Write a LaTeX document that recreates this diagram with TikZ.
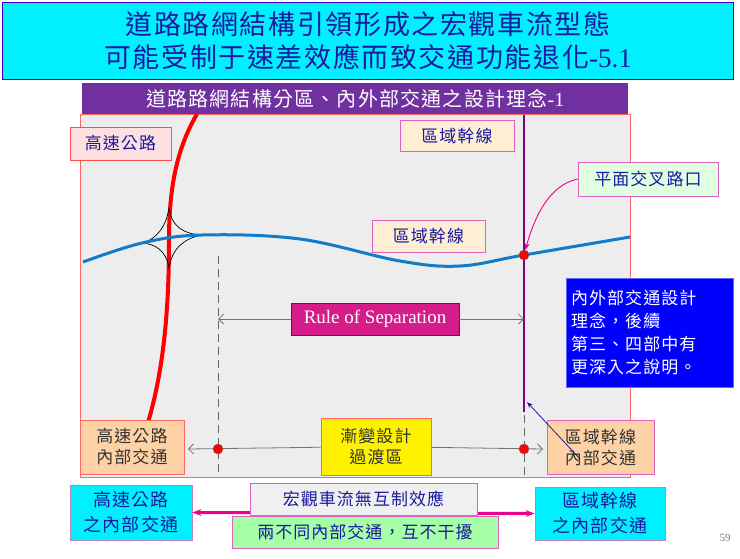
\documentclass[tikz,border=0pt]{standalone}
\usepackage{fontspec}
\setmainfont{Liberation Serif}
\newfontfamily\cjk[LetterSpace=6]{Noto Sans CJK TC}
\usetikzlibrary{arrows.meta}
\definecolor{navy}{HTML}{1A1AA0}
\definecolor{pinkb}{HTML}{E060C0}
\definecolor{aqua}{HTML}{00F0FF}
\definecolor{hdr}{HTML}{7030A0}
\tikzset{
 lab/.style={draw=pinkb,line width=0.8pt,font=\cjk\fontsize{17}{21}\selectfont,text=navy,inner sep=0pt,align=center},
 dot/.style={circle,fill=red,draw=black!60,line width=0.4pt,inner sep=0pt,minimum size=10pt},
}
\begin{document}
\begin{tikzpicture}[x=1pt,y=-1pt]
\useasboundingbox (0,0) rectangle (740,558);
\fill[white] (0,0) rectangle (740,558);
% title
\node[draw=blue!60!violet,line width=1pt,fill=aqua,minimum width=731pt,minimum height=77pt,anchor=north west,inner sep=0pt,align=center,text=navy,font=\cjk\fontsize{27}{33}\selectfont] (title) at (2,2) {道路路網結構引領形成之宏觀車流型態\\可能受制于速差效應而致交通功能退化\fontspec{Liberation Serif}-5.1};
\node[fill=hdr,minimum width=546pt,minimum height=31pt,anchor=north west,inner sep=0pt,text=white,font=\cjk\fontsize{20}{22}\selectfont] (head) at (82,83) {道路路網結構分區、內外部交通之設計理念\fontspec{Liberation Serif}-1};
\node[draw=red!60,fill=black!7,line width=0.6pt,minimum width=550pt,minimum height=363pt,anchor=north west,inner sep=0pt] (panel) at (80,114) {};
% roads
\draw[red,line width=4pt] (197,114) .. controls (176,150) and (169,190) .. (169,240) .. controls (169,330) and (160,395) .. (138,452);
\draw[black,line width=0.7pt] (169,208) .. controls (172,228) and (185,234) .. (202,235) .. controls (185,238) and (172,248) .. (169,268) .. controls (166,250) and (155,244) .. (142,243) .. controls (155,240) and (166,228) .. (169,208);
\draw[cyan!60!blue,line width=3pt] plot[smooth,tension=0.6] coordinates {(83,262)(142,243)(202,235)(300,239)(400,261)(460,266)(524,255)(630,237)};
\coordinate (pt) at (524,115);
\coordinate (pb) at (524,412);
\draw[violet,line width=2pt] (pt) -- (pb);
\draw[black!60,dash pattern=on 8pt off 5pt,line width=0.8pt] (218,256) -- (218,476);
\draw[black!60,dash pattern=on 8pt off 5pt,line width=0.8pt] (524,415) -- (524,476);
\node[dot] (cross) at (524,255) {};
% separation
\node[fill=magenta!75!violet,draw=violet,minimum width=168pt,minimum height=32pt,inner sep=0pt,text=white,font=\fontsize{19}{20}\selectfont] (rule) at (375,319) {Rule of Separation};
\coordinate (sl) at (218,319); \coordinate (sr) at (524,319);
\draw[black!55,line width=0.8pt,-{Straight Barb[length=5pt]}] (rule) -- (sl);
\draw[black!55,line width=0.8pt,-{Straight Barb[length=5pt]}] (rule) -- (sr);
% labels
\node[lab,draw=red!70,fill=red!12,minimum width=101pt,minimum height=33pt] (hw) at (120.5,143.5) {高速公路};
\node[lab,fill=yellow!20!orange!15,minimum width=114pt,minimum height=31pt] (rt) at (457,135.5) {區域幹線};
\node[lab,fill=yellow!20!orange!15,minimum width=113pt,minimum height=32pt] (rm) at (428.5,236) {區域幹線};
\node[lab,fill=green!12,minimum width=140pt,minimum height=34pt] (pl) at (648,179) {平面交叉路口};
\draw[magenta,line width=0.9pt,-{Stealth[length=7pt]}] (pl.west) .. controls (550,185) and (535,215) .. (cross);
\node[fill=blue,draw=blue!60,minimum width=167pt,minimum height=109pt,anchor=north west,inner sep=5pt,text=white,align=left,text width=157pt,font=\cjk\fontsize{17}{23}\selectfont] (note) at (566,278) {內外部交通設計\\理念，後續\\第三、四部中有\\更深入之說明。};
% bottom of panel
\node[lab,draw=red!60,fill=orange!35,text=black!80,minimum width=104pt,minimum height=54pt] (hwi) at (132,447) {高速公路\\內部交通};
\node[lab,draw=red!60,fill=yellow,text=black!80,minimum width=110pt,minimum height=57pt] (tr) at (376,446.5) {漸變設計\\過渡區};
\node[lab,fill=orange!35,text=black!80,minimum width=107pt,minimum height=54pt] (rti) at (600.5,447) {區域幹線\\內部交通};
\draw[navy,line width=0.8pt,-{Stealth[length=6pt]}] (580,459) -- (527,402);
\draw[black!55,line width=0.8pt,-{Straight Barb[length=5pt]}] (tr) -- (188,449);
\draw[black!55,line width=0.8pt,-{Straight Barb[length=5pt]}] (tr) -- (543,449);
\node[dot] (d1) at (218,449) {};
\node[dot] (d2) at (524,449) {};
% bottom row
\node[lab,draw=violet!50,fill=aqua,text=navy,minimum width=122pt,minimum height=55pt,font=\cjk\fontsize{18}{25}\selectfont] (hwb) at (131,512.5) {高速公路\\之內部交通};
\node[lab,draw=violet!50,fill=aqua,text=navy,minimum width=130pt,minimum height=53pt,font=\cjk\fontsize{18}{25}\selectfont] (rtb) at (600,513.5) {區域幹線\\之內部交通};
\draw[magenta,line width=3pt,{Stealth[length=9pt]}-{Stealth[length=9pt]}] (hwb.east) -- (rtb.west);
\node[lab,fill=black!6,minimum width=227pt,minimum height=32pt] (m1) at (363.5,499) {宏觀車流無互制效應};
\node[lab,fill=green!35,minimum width=266pt,minimum height=32pt] (m2) at (365,532) {兩不同內部交通，互不干擾};
\node[text=black!50,font=\fontsize{11}{12}\selectfont] (pg) at (725,538) {59};
\end{tikzpicture}
\end{document}
